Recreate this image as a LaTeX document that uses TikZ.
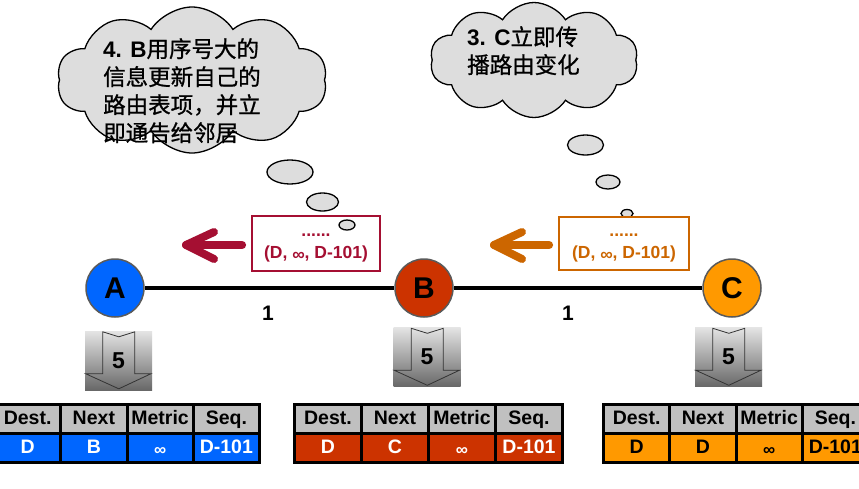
\documentclass[tikz,border=0pt]{standalone}
\usepackage{fontspec}
\setmainfont{Liberation Sans}
\newfontfamily\cjk{Noto Sans CJK SC}[FakeBold=0.9]
\usetikzlibrary{shapes.symbols,calc}
\newcommand\lowinf[1]{\raisebox{-#1}{∞}}
\definecolor{nodeblue}{HTML}{0066FF}
\definecolor{nodered}{HTML}{CC3300}
\definecolor{nodeorange}{HTML}{FF9900}
\definecolor{msgred}{HTML}{A50F32}
\definecolor{msgorange}{HTML}{CC6600}
\definecolor{cloudgray}{HTML}{DDDDDD}
\definecolor{headgray}{HTML}{C0C0C0}
\definecolor{rimgray}{HTML}{5A5A5A}
\definecolor{shadetop}{HTML}{E4E4E4}
\definecolor{shadebot}{HTML}{686868}
\begin{document}
\begin{tikzpicture}[x=1pt,y=-1pt,
  router/.style={circle, draw=rimgray, line width=1.5pt, minimum size=58pt, inner sep=0pt, font=\fontsize{30}{30}\selectfont\bfseries},
  link/.style={line width=4pt, black},
  cost/.style={inner sep=0pt, font=\fontsize{21}{21}\selectfont\bfseries},
  thought/.style={cloud, cloud puffs=10, cloud puff arc=115, cloud ignores aspect, draw=black, line width=1.3pt, fill=cloudgray, inner sep=0pt},
  bubble/.style={draw=black, line width=1.3pt, fill=cloudgray},
  cloudtext/.style={align=left, inner sep=0pt, font=\fontsize{22.5}{28}\selectfont},
  msgbox/.style={draw, fill=white, line width=1.8pt, minimum height=55pt, inner sep=0pt},
  msgtext/.style={align=center, inner sep=0pt, font=\fontsize{17.5}{22}\selectfont\bfseries},
  msgarrow/.style={line width=8pt, line cap=round, line join=round},
  graybox/.style={minimum width=67pt, minimum height=59pt, inner sep=0pt, top color=shadetop, bottom color=shadebot, font=\fontsize{23}{23}\selectfont\bfseries},
  arrowline/.style={draw=black!80, line width=0.8pt, line join=miter},
  cell/.style={draw=black, line width=3pt, minimum height=29pt, inner sep=0pt, text height=14pt, text depth=3.5pt, font=\fontsize{19.5}{19.5}\selectfont\bfseries},
]
\useasboundingbox (0,0) rectangle (859,488);
\fill[white] (0,0) rectangle (859,488);

% clouds
\node[thought, minimum width=270pt, minimum height=146pt] (c4) at (192,80) {};
\node[cloudtext, anchor=north west] (t4) at (103,38) {{\bfseries 4. B}{\cjk 用序号大的}\\{\cjk 信息更新自己的}\\{\cjk 路由表项，并立}\\{\cjk 即通告给邻居}};
\node[thought, minimum width=208pt, minimum height=115pt] (c3) at (534,60) {};
\node[cloudtext, anchor=north west] (t3) at (467,26) {{\bfseries 3. C}{\cjk 立即传}\\{\cjk 播路由变化}};

% message boxes and bubbles
\node[msgbox, draw=msgred, minimum width=128pt] (mL) at (316,243.5) {};
\node[msgtext, text=msgred] (mLt) at (316,248) {......\\(D, \lowinf{2pt}, D-101)};
\draw[bubble] (290,172) ellipse [x radius=23pt, y radius=12pt];
\draw[bubble] (322.5,202) ellipse [x radius=16pt, y radius=9pt];
\draw[bubble] (347,225) ellipse [x radius=8pt, y radius=5pt];

\draw[bubble] (585.5,145) ellipse [x radius=18pt, y radius=10pt];
\draw[bubble] (608,182) ellipse [x radius=12pt, y radius=7pt];
\draw[bubble] (627,213.5) ellipse [x radius=6pt, y radius=4pt];
\node[msgbox, draw=msgorange, minimum width=130pt, minimum height=53pt] (mR) at (624,243.5) {};
\node[msgtext, text=msgorange] (mRt) at (624,248) {......\\(D, \lowinf{2pt}, D-101)};

% message arrows
\coordinate (tipL) at (186,245);
\coordinate (tipR) at (494,245);
\draw[msgarrow, msgred] ($(mL.west)+(-9,1.5)$) -- (tipL);
\draw[msgarrow, msgred] ($(tipL)+(28,-13)$) -- (tipL) -- ($(tipL)+(28,14)$);
\draw[msgarrow, msgorange] ($(mR.west)+(-9,1.5)$) -- (tipR);
\draw[msgarrow, msgorange] ($(tipR)+(28,-13)$) -- (tipR) -- ($(tipR)+(28,14)$);

% routers and links
\node[router, fill=nodeblue] (A) at (115,288) {A};
\node[router, fill=nodered] (B) at (424,288) {B};
\node[router, fill=nodeorange] (C) at (732,288) {C};
\draw[link] (A) -- (B);
\draw[link] (B) -- (C);
\node[cost] (l1) at (268,313) {1};
\node[cost] (l2) at (568,313) {1};

% gray arrow boxes
\node[graybox] (g1) at (118.5,360.5) {5};
\node[graybox] (g2) at (427,357) {5};
\node[graybox] (g3) at (728.5,357) {5};
\foreach \g in {g1,g2,g3}{
  \begin{scope}[shift={(\g.north west)}]
    \draw[arrowline] (18,1) -- (34,6) -- (50,1) -- (50,43) -- (66,43) -- (34,58) -- (1,43) -- (18,43) -- cycle;
  \end{scope}
}

% tables
\foreach \tn/\x/\w/\fc/\tc/\nx in {A/-7/66.25/nodeblue/white/B, B/293/67/nodered/white/C, C/602/66.25/nodeorange/black/D}{
  \foreach \i/\h/\d in {1/Dest./D, 2/Next/\nx, 3/Metric/{\fontsize{17}{17}\selectfont\lowinf{2.5pt}}, 4/Seq./D-101}{
    \node[cell, fill=headgray, minimum width=\w pt, anchor=north west] (h\tn\i) at ({\x+(\i-1)*\w}, 403) {\h};
    \node[cell, fill=\fc, text=\tc, minimum width=\w pt, anchor=north west] (d\tn\i) at ({\x+(\i-1)*\w}, 432) {\d};
  }
}
\end{tikzpicture}
\end{document}
